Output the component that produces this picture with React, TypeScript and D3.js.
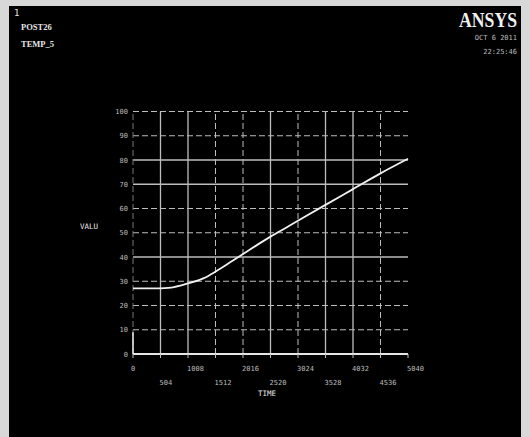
import React from "react";
import * as d3 from "d3";

// time history
const times = [0, 504, 750, 1008, 1300, 1536, 1780, 2024, 2270, 2520, 2820, 3125, 3528, 4032, 4536, 5040];
const values = [27.1, 27.1, 27.6, 29.1, 31.3, 34.3, 37.8, 41.3, 44.9, 48.4, 52.3, 56.3, 61.5, 68.0, 74.5, 80.5];

const xTicks = [0, 504, 1008, 1512, 2016, 2520, 3024, 3528, 4032, 4536, 5040];
const yTicks = [0, 10, 20, 30, 40, 50, 60, 70, 80, 90, 100];
// which grid lines look solid in the scan
const solidX = [504, 1008, 2520, 3528, 4032];
const solidY = [40, 70, 80];

const App = () => {
  const width = 530;
  const height = 437;

  const xScale = d3.scaleLinear().domain([0, 5040]).range([133, 408]);
  const yScale = d3.scaleLinear().domain([0, 100]).range([354, 111.5]);

  const line = d3
    .line<number>()
    .x((d, i) => xScale(times[i]))
    .y((d) => yScale(d))
    .curve(d3.curveCatmullRom.alpha(0.5));

  const fg = "#e6e6e6";
  const grid = "#bdbdbd";
  const font = "DejaVu Sans Mono, monospace";

  return (
    <div style={{ position: "fixed", left: 0, top: 0 }}>
      <svg width={width} height={height} style={{ display: "block" }}>
        <rect x={0} y={0} width={width} height={height} fill="#d8d8d8" />
        <rect x={9} y={6} width={512} height={431} fill="#000" />

        {/* header texts */}
        <text x={14} y={16} fill={fg} fontSize={9} fontFamily={font}>1</text>
        <text x={21} y={30} fill={fg} fontSize={8.5} fontFamily="Liberation Serif, serif" fontWeight="bold">POST26</text>
        <text x={21} y={47} fill={fg} fontSize={8.5} fontFamily="Liberation Serif, serif" fontWeight="bold">TEMP_5</text>
        <text x={459} y={27} fill="#f2f2f2" fontSize={20} fontFamily="Liberation Serif, serif" fontWeight="bold" textLength={58} lengthAdjust="spacingAndGlyphs">ANSYS</text>
        <text x={517} y={40} fill={grid} fontSize={7} fontFamily={font} textAnchor="end">OCT  6 2011</text>
        <text x={517} y={54} fill={grid} fontSize={7} fontFamily={font} textAnchor="end">22:25:46</text>

        {/* horizontal grid */}
        {yTicks.slice(1).map((t) => (
          <line
            key={"gy" + t}
            x1={xScale(0)}
            x2={xScale(5040)}
            y1={yScale(t)}
            y2={yScale(t)}
            stroke={grid}
            strokeWidth={solidY.includes(t) ? 1.3 : 1}
            strokeDasharray={solidY.includes(t) ? null : "6,3"}
          />
        ))}
        {/* vertical grid */}
        {xTicks.slice(1, -1).map((t) => (
          <line
            key={"gx" + t}
            x1={xScale(t)}
            x2={xScale(t)}
            y1={yScale(0)}
            y2={yScale(100)}
            stroke={grid}
            strokeWidth={solidX.includes(t) ? 1.3 : 1}
            strokeDasharray={solidX.includes(t) ? null : "6,3"}
          />
        ))}
        <line x1={xScale(0)} x2={xScale(0)} y1={yScale(0)} y2={yScale(100)} stroke="#777" strokeDasharray="6,3" />

        {/* axes */}
        <line x1={xScale(0)} x2={xScale(0)} y1={yScale(0)} y2={yScale(9)} stroke={fg} strokeWidth={1.6} />
        <line x1={xScale(0)} x2={xScale(5040)} y1={yScale(0)} y2={yScale(0)} stroke={fg} strokeWidth={2} />
        {xTicks.map((t) => (
          <line key={"tk" + t} x1={xScale(t)} x2={xScale(t)} y1={yScale(0)} y2={yScale(0) + 4} stroke={grid} />
        ))}

        {/* tick labels */}
        {yTicks.map((t) => (
          <text key={"yl" + t} x={128} y={yScale(t) + 2.5} fill={grid} fontSize={7} fontFamily={font} textAnchor="end">
            {t}
          </text>
        ))}
        {xTicks.map((t, i) => (
          <text
            key={"xl" + t}
            x={xScale(t) - (i === 0 ? 2 : 1)}
            y={i % 2 === 0 ? 371 : 385}
            fill={grid}
            fontSize={7}
            fontFamily={font}
          >
            {t}
          </text>
        ))}
        <text x={80} y={229} fill={fg} fontSize={7.5} fontFamily={font}>VALU</text>
        <text x={258} y={396} fill={fg} fontSize={7.5} fontFamily={font}>TIME</text>

        {/* curve */}
        <path d={line(values) || ""} fill="none" stroke="#f0f0f0" strokeWidth={1.8} />
      </svg>
    </div>
  );
};

export default App;
